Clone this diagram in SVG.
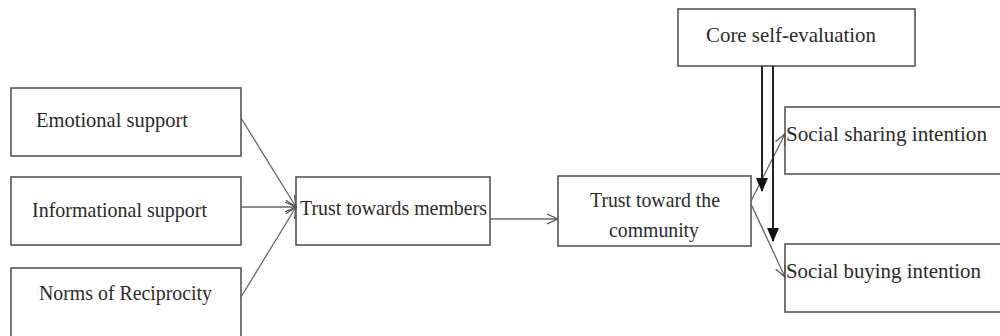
<svg xmlns="http://www.w3.org/2000/svg" width="1000" height="336" viewBox="0 0 1000 336">
<defs>
<style>
.box{fill:#fff;stroke:#555;stroke-width:1.6}
.t{font-family:"Liberation Serif","Times New Roman",serif;font-size:21px;fill:#2a2a2a}
.c{stroke:#666;stroke-width:1.3;fill:none}
.m{stroke:#222;stroke-width:2;fill:none}
</style>
<marker id="open" viewBox="0 0 12 12" refX="11" refY="6" markerWidth="12" markerHeight="12" markerUnits="userSpaceOnUse" orient="auto">
<path d="M0,1 L11,6 L0,11" fill="none" stroke="#555" stroke-width="1.3"/>
</marker>
<marker id="solid" viewBox="0 0 12 14" refX="6" refY="13" markerWidth="12" markerHeight="14" markerUnits="userSpaceOnUse" orient="0">
<path d="M0,0 L12,0 L6,14 Z" fill="#111"/>
</marker>
</defs>
<g id="n-emotional"><rect class="box" x="11" y="88" width="230" height="68"/><text class="t" x="36" y="127" textLength="152" lengthAdjust="spacingAndGlyphs">Emotional support</text></g>
<g id="n-informational"><rect class="box" x="11" y="177" width="230" height="68"/><text class="t" x="32" y="217" textLength="175" lengthAdjust="spacingAndGlyphs">Informational support</text></g>
<g id="n-norms"><rect class="box" x="11" y="268" width="230" height="70"/><text class="t" x="39" y="300" textLength="173" lengthAdjust="spacingAndGlyphs">Norms of Reciprocity</text></g>
<g id="n-members"><rect class="box" x="296" y="177" width="194" height="68"/><text class="t" x="300" y="215" textLength="187" lengthAdjust="spacingAndGlyphs">Trust towards members</text></g>
<g id="n-community"><rect class="box" x="558" y="176" width="193" height="70"/><text class="t" x="590" y="207" textLength="130" lengthAdjust="spacingAndGlyphs">Trust toward the</text><text class="t" x="609" y="237" textLength="90" lengthAdjust="spacingAndGlyphs">community</text></g>
<g id="n-core"><rect class="box" x="678" y="9" width="237" height="57"/><text class="t" x="706" y="42" textLength="170" lengthAdjust="spacingAndGlyphs">Core self-evaluation</text></g>
<g id="n-sharing"><rect class="box" x="785" y="107" width="220" height="67"/><text class="t" x="786" y="141" textLength="201" lengthAdjust="spacingAndGlyphs">Social sharing intention</text></g>
<g id="n-buying"><rect class="box" x="785" y="244" width="220" height="68"/><text class="t" x="786" y="278" textLength="195" lengthAdjust="spacingAndGlyphs">Social buying intention</text></g>
<g id="connectors">
<line class="c" x1="241" y1="118" x2="296" y2="207" marker-end="url(#open)"/>
<line class="c" x1="241" y1="207" x2="296" y2="207" marker-end="url(#open)"/>
<line class="c" x1="241" y1="297" x2="296" y2="207" marker-end="url(#open)"/>
<line class="c" x1="490" y1="219" x2="558" y2="219" marker-end="url(#open)"/>
<line class="c" x1="751" y1="201" x2="785" y2="134" marker-end="url(#open)"/>
<line class="c" x1="751" y1="204" x2="785" y2="277" marker-end="url(#open)"/>
<line class="m" x1="762" y1="66" x2="762" y2="191" marker-end="url(#solid)"/>
<line class="m" x1="773" y1="66" x2="773" y2="241" marker-end="url(#solid)"/>
</g>
</svg>
